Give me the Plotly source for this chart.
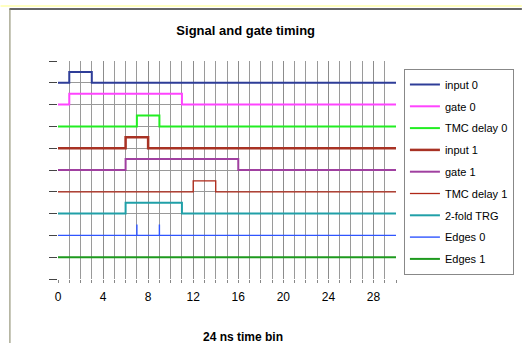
import plotly.graph_objects as go

# ---- data ----
signal_names = ["input 0", "gate 0", "TMC delay 0", "input 1", "gate 1",
                "TMC delay 1", "2-fold TRG", "Edges 0", "Edges 1"]
baselines = [9, 8, 7, 6, 5, 4, 3, 2, 1]
# (start, end) of the high state for each pulse signal, in time bins
pulse_start = [1, 1, 7, 6, 6, 12, 6, None, None]
pulse_end = [3, 11, 9, 8, 16, 14, 11, None, None]
edges0_times = [7, 9]
pulse_height = 0.5
t_max = 30
x_ticks = [0, 4, 8, 12, 16, 20, 24, 28]

colors = ["#2E3D98", "#FF44FF", "#22EE22", "#A83224", "#A040A0",
          "#B02818", "#20A0A8", "#2F55FF", "#1E9A1E"]
widths = [2, 2, 2, 2.5, 2, 1.3, 2, 1.4, 2]

fig = go.Figure()
for i, name in enumerate(signal_names):
    b = baselines[i]
    if name == "Edges 0":
        xs, ys = [0], [b]
        for t in edges0_times:
            xs += [t, t, t]
            ys += [b, b + pulse_height, b]
        xs.append(t_max)
        ys.append(b)
    elif pulse_start[i] is None:
        xs, ys = [0, t_max], [b, b]
    else:
        s, e = pulse_start[i], pulse_end[i]
        xs = [0, s, s, e, e, t_max]
        ys = [b, b, b + pulse_height, b + pulse_height, b, b]
    fig.add_trace(go.Scatter(x=xs, y=ys, mode="lines", name=name,
                             legendgroup=name,
                             line=dict(color=colors[i], width=widths[i], simplify=False),
                             hoverinfo="skip"))

L, R, T, B = 58, 399, 61, 279
W, H = 526, 343
pw, ph = R - L, B - T

def px(x):
    return (x - L) / pw

def py(y):
    return (B - y) / ph

fig.update_layout(
    width=W, height=H,
    margin=dict(l=L, r=W - R, t=T, b=H - B),
    paper_bgcolor="white", plot_bgcolor="white",
    font=dict(family="Liberation Sans, Arial, sans-serif", size=12, color="black"),
    title=dict(text="<b>Signal and gate timing</b>", x=245.7 / W, xref="container",
               xanchor="center", y=1 - 30 / H, yref="container", yanchor="middle",
               font=dict(size=13)),
    showlegend=True,
    legend=dict(x=px(407), y=py(69), xanchor="left", yanchor="top",
                bordercolor="#888888", borderwidth=1, bgcolor="white",
                font=dict(size=11), tracegroupgap=2.8,
                traceorder="grouped"),
    xaxis=dict(range=[0, t_max], tickvals=x_ticks, showgrid=True, gridcolor="#8c8c8c",
               gridwidth=1, zeroline=False, showline=False,
               ticks="outside", ticklen=3, tickcolor="#888888",
               ticklabelstandoff=4,
               minor=dict(dtick=1, showgrid=True, gridcolor="#9a9a9a", ticks="outside",
                          ticklen=3, tickcolor="#888888"),
               tickfont=dict(size=12)),
    yaxis=dict(range=[0, 10], dtick=1, showticklabels=False, showgrid=True,
               gridcolor="#999999", zeroline=False, showline=False,
               ticks="outside", ticklen=8, tickcolor="#444444"),
    annotations=[dict(text="<b>24 ns time bin</b>", x=px(245), y=py(337),
                      xref="paper", yref="paper", showarrow=False,
                      xanchor="center", yanchor="middle", font=dict(size=12))],
    shapes=[
        dict(type="line", xref="paper", yref="paper", x0=px(0), x1=px(W),
             y0=py(6), y1=py(6), line=dict(color="#FFFFC0", width=2)),
        dict(type="line", xref="paper", yref="paper", x0=px(9), x1=px(W),
             y0=py(9), y1=py(9), line=dict(color="#333333", width=1.5)),
        dict(type="line", xref="paper", yref="paper", x0=px(9.5), x1=px(9.5),
             y0=py(9), y1=py(H), line=dict(color="#808060", width=1)),
    ],
)

fig.write_html("out.html", config={"displayModeBar": False},
               post_script="document.body.style.margin='0px';document.body.style.overflow='hidden';")
